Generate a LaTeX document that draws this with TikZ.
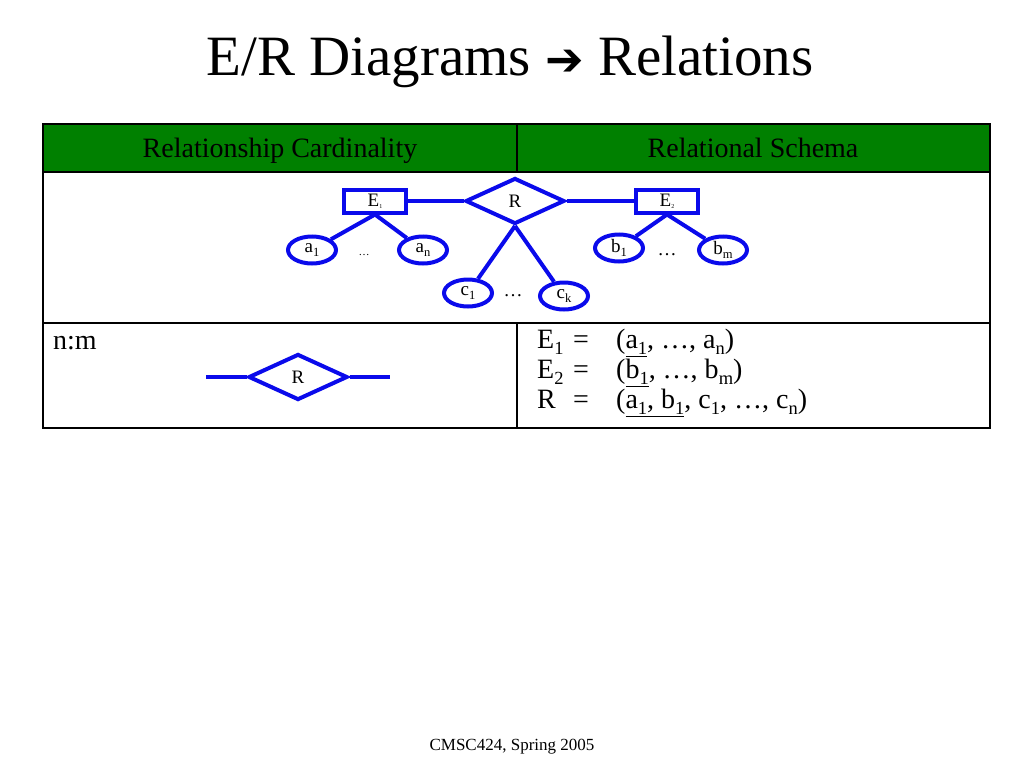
\documentclass[tikz,border=0pt]{standalone}
\usepackage{fontspec}
\setmainfont{Liberation Serif}
\newfontfamily\dejavu{DejaVu Sans}
\usetikzlibrary{shapes.geometric}
\definecolor{erblue}{RGB}{10,10,235}
\definecolor{hdrgreen}{RGB}{0,128,0}
\newcommand{\tinysub}[1]{\raisebox{-2pt}{\fontsize{6}{6}\selectfont #1}}
\newcommand{\lsub}[1]{\raisebox{-0.24em}{\fontsize{0.66em}{0.66em}\selectfont #1}}
\begin{document}
\begin{tikzpicture}[x=1pt,y=-1pt,
  ent/.style={draw=erblue,line width=4pt,minimum width=62pt,minimum height=23pt,inner sep=0pt,font=\fontsize{19}{19}\selectfont},
  rel/.style={draw=erblue,line width=4pt,diamond,minimum width=99pt,minimum height=46pt,inner sep=0pt,font=\fontsize{19}{19}\selectfont},
  attr/.style={draw=erblue,line width=4pt,ellipse,minimum width=48pt,minimum height=27pt,inner sep=0pt,font=\fontsize{19}{19}\selectfont},
  link/.style={draw=erblue,line width=4pt},
  grid/.style={draw=black,line width=1.3pt},
  txt/.style={inner sep=0pt,anchor=base west,font=\fontsize{28}{28}\selectfont},
  hdr/.style={inner sep=0pt,anchor=base,font=\fontsize{28}{28}\selectfont},
  dots/.style={inner sep=0pt,font=\fontsize{19}{19}\selectfont}]
\useasboundingbox (0,0) rectangle (1024,768);
% title
\node[inner sep=0pt,anchor=base,font=\fontsize{57}{57}\selectfont] (title) at (510,75)
  {E/R Diagrams {\dejavu\fontsize{46}{46}\selectfont ➔} Relations};
% table
\fill[hdrgreen] (43,124) rectangle (990,172);
\draw[grid] (43,124) rectangle (990,428);
\draw[grid] (43,172) -- (990,172);
\draw[grid] (43,323) -- (990,323);
\draw[grid] (517,124) -- (517,172);
\draw[grid] (517,323) -- (517,428);
\node[hdr] (h1) at (280,157) {Relationship Cardinality};
\node[hdr] (h2) at (753,157) {Relational Schema};
% ER diagram
\node[ent] (E1) at (375,201) {E\tinysub{1}};
\node[ent] (E2) at (667,201) {E\tinysub{2}};
\node[rel] (R) at (515,201) {R};
\node[attr] (a1) at (312,250) {a\lsub{1}};
\node[attr] (an) at (423,250) {a\lsub{n}};
\node[attr] (b1) at (619,248) {b\lsub{1}};
\node[attr] (bm) at (723,250) {b\lsub{m}};
\node[attr] (c1) at (468,293) {c\lsub{1}};
\node[attr] (ck) at (564,296) {c\lsub{k}};
\node[dots,font=\fontsize{11}{11}\selectfont] (d1) at (364,255) {…};
\node[dots] (d2) at (667,255) {…};
\node[dots] (d3) at (513,296) {…};
\draw[link] (E1.east) -- (R.west);
\draw[link] (R.east) -- (E2.west);
\draw[link] (E1.south) -- (a1);
\draw[link] (E1.south) -- (an);
\draw[link] (E2.south) -- (b1);
\draw[link] (E2.south) -- (bm);
\draw[link] (R.south) -- (c1);
\draw[link] (R.south) -- (ck);
% n:m row
\node[txt] (nm) at (53,349) {n:m};
\node[rel] (R2) at (298,377) {R};
\coordinate (l2) at (206,377);
\coordinate (r2) at (390,377);
\draw[link] (l2) -- (R2.west);
\draw[link] (R2.east) -- (r2);
% schema
\node[txt] (s1a) at (537,348) {E\lsub{1}};
\node[txt] (s1b) at (573,348) {=};
\node[txt] (s1c) at (616,348) {(\underline{a\lsub{1}}, …, a\lsub{n})};
\node[txt] (s2a) at (537,378) {E\lsub{2}};
\node[txt] (s2b) at (573,378) {=};
\node[txt] (s2c) at (616,378) {(\underline{b\lsub{1}}, …, b\lsub{m})};
\node[txt] (s3a) at (537,408) {R};
\node[txt] (s3b) at (573,408) {=};
\node[txt] (s3c) at (616,408) {(\underline{a\lsub{1}, b\lsub{1}}, c\lsub{1}, …, c\lsub{n})};
% footer
\node[inner sep=0pt,anchor=base,font=\fontsize{17}{17}\selectfont] (foot) at (512,750) {CMSC424, Spring 2005};
\end{tikzpicture}
\end{document}
